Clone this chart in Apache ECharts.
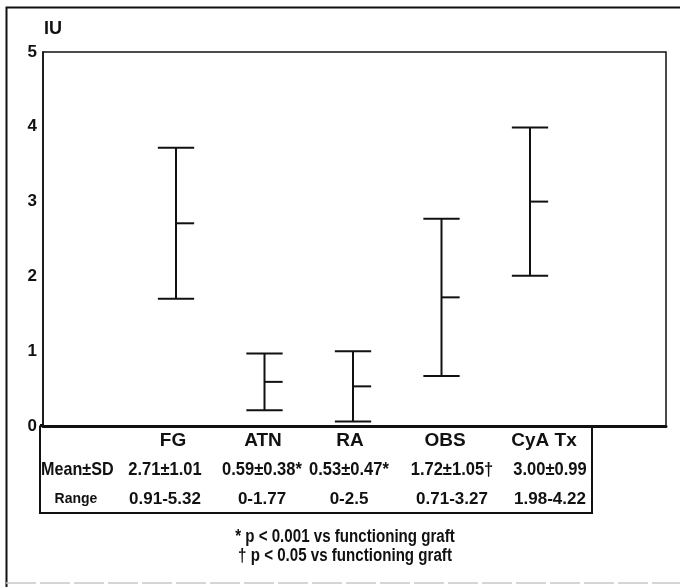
<!DOCTYPE html>
<html>
<head>
<meta charset="utf-8">
<script src="https://cdn.jsdelivr.net/npm/echarts@6/dist/echarts.min.js"></script>
<style>
  html, body { margin: 0; padding: 0; background: #fff; }
  #chart { width: 680px; height: 587px; }
</style>
</head>
<body>
<div id="chart"></div>
<script>
// Serum levels (IU) by graft status: mean ± SD per group
const groups = ['FG', 'ATN', 'RA', 'OBS', 'CyA Tx'];
const means = [2.71, 0.59, 0.53, 1.72, 3.00];
const sds = [1.01, 0.38, 0.47, 1.05, 0.99];
const marks = ['', '*', '*', '\u2020', ''];
const ranges = ['0.91-5.32', '0-1.77', '0-2.5', '0.71-3.27', '1.98-4.22'];
const yTicks = [0, 1, 2, 3, 4, 5];
const yName = 'IU';
const rowNames = ['Mean\u00b1SD', 'Range'];
const footnotes = ['* p < 0.001 vs functioning graft', '\u2020 p < 0.05 vs functioning graft'];

const INK = '#111';
const SANS = '"Liberation Sans", Arial, Helvetica, sans-serif';

// table layout (pixel columns / rows under the plot)
const headerX = [173, 263, 350, 445, 544];
const cellX = [165, 262, 349, 452, 550];
const rowY = [441, 470, 499];
const tableBox = { x0: 40, x1: 592, y0: 425.5, y1: 513 };
const CONDENSE = 0.87;

function fmt(v) { return v.toFixed(2); }

const chart = echarts.init(document.getElementById('chart'));

const tableTexts = [];
groups.forEach(function (g, i) {
  tableTexts.push({
    type: 'text', x: headerX[i], y: rowY[0],
    style: { text: g, fill: INK, font: 'bold 19px ' + SANS, textAlign: 'center', textVerticalAlign: 'middle' }
  });
  tableTexts.push({
    type: 'text', x: cellX[i], y: rowY[1], scaleX: CONDENSE,
    style: { text: fmt(means[i]) + '\u00b1' + fmt(sds[i]) + marks[i], fill: INK, font: 'bold 19px ' + SANS, textAlign: 'center', textVerticalAlign: 'middle' }
  });
  tableTexts.push({
    type: 'text', x: cellX[i], y: rowY[2],
    style: { text: ranges[i], fill: INK, font: 'bold 17px ' + SANS, textAlign: 'center', textVerticalAlign: 'middle' }
  });
});
tableTexts.push({
  type: 'text', x: 41, y: rowY[1], scaleX: 0.85,
  style: { text: rowNames[0], fill: INK, font: 'bold 19px ' + SANS, textAlign: 'left', textVerticalAlign: 'middle' }
});
tableTexts.push({
  type: 'text', x: 76, y: rowY[2],
  style: { text: rowNames[1], fill: INK, font: 'bold 14px ' + SANS, textAlign: 'center', textVerticalAlign: 'middle' }
});
footnotes.forEach(function (t, k) {
  tableTexts.push({
    type: 'text', x: 345, y: 537 + k * 19, scaleX: 0.84,
    style: { text: t, fill: INK, font: 'bold 18px ' + SANS, textAlign: 'center', textVerticalAlign: 'middle' }
  });
});

const option = {
  backgroundColor: '#fff',
  animation: false,
  grid: [
    { left: 43, right: 14, top: 52, bottom: 161, show: true, borderColor: INK, borderWidth: 1.5, backgroundColor: 'transparent' },
    { left: 131.75, right: 105.75, top: 52, bottom: 161 }
  ],
  xAxis: [
    {
      gridIndex: 0, type: 'value', min: 0, max: 1,
      axisLine: { show: true, lineStyle: { color: INK, width: 3 } },
      axisTick: { show: false }, axisLabel: { show: false }, splitLine: { show: false }
    },
    {
      gridIndex: 1, type: 'category', data: groups, show: false, boundaryGap: true
    }
  ],
  yAxis: [
    {
      gridIndex: 0, type: 'value',
      min: yTicks[0], max: yTicks[yTicks.length - 1], interval: yTicks[1] - yTicks[0],
      name: yName, nameLocation: 'end', nameGap: 14,
      nameTextStyle: { color: INK, fontFamily: SANS, fontWeight: 'bold', fontSize: 18, align: 'left', verticalAlign: 'bottom', padding: [0, 0, 0, 1] },
      axisLine: { show: true, lineStyle: { color: INK, width: 1.5 } },
      axisTick: { show: false },
      axisLabel: { color: INK, fontFamily: SANS, fontWeight: 'bold', fontSize: 17, margin: 6 },
      splitLine: { show: false }
    },
    {
      gridIndex: 1, type: 'value',
      min: yTicks[0], max: yTicks[yTicks.length - 1], show: false, splitLine: { show: false }
    }
  ],
  series: [{
    type: 'custom',
    xAxisIndex: 1, yAxisIndex: 1,
    encode: { x: 0, y: 1 },
    data: groups.map(function (g, i) { return [i, means[i], sds[i]]; }),
    renderItem: function (params, api) {
      const i = api.value(0), m = api.value(1), s = api.value(2);
      const hi = api.coord([i, m + s]);
      const lo = api.coord([i, m - s]);
      const mid = api.coord([i, m]);
      const half = api.size([1, 0])[0] * 0.205;
      const st = { stroke: INK, lineWidth: 2 };
      return {
        type: 'group',
        children: [
          { type: 'line', shape: { x1: hi[0], y1: hi[1], x2: lo[0], y2: lo[1] }, style: st },
          { type: 'line', shape: { x1: hi[0] - half, y1: hi[1], x2: hi[0] + half, y2: hi[1] }, style: st },
          { type: 'line', shape: { x1: lo[0] - half, y1: lo[1], x2: lo[0] + half, y2: lo[1] }, style: st },
          { type: 'line', shape: { x1: mid[0], y1: mid[1], x2: mid[0] + half, y2: mid[1] }, style: st }
        ]
      };
    }
  }],
  graphic: [
    // outer figure frame
    { type: 'polyline', shape: { points: [[6.5, 587], [6.5, 7.5], [680, 7.5]] }, style: { stroke: INK, lineWidth: 2, fill: null } },
    { type: 'line', shape: { x1: 6, y1: 583, x2: 680, y2: 583 }, style: { stroke: '#c8c8c8', lineWidth: 1.5, lineDash: [30, 4] } },
    // table frame under the axis
    { type: 'polyline', shape: { points: [[tableBox.x0, tableBox.y0], [tableBox.x0, tableBox.y1], [tableBox.x1, tableBox.y1], [tableBox.x1, tableBox.y0]] }, style: { stroke: INK, lineWidth: 2, fill: null } },
    { type: 'line', shape: { x1: tableBox.x0, y1: tableBox.y0, x2: 44, y2: tableBox.y0 }, style: { stroke: INK, lineWidth: 3 } }
  ].concat(tableTexts)
};

chart.setOption(option);
</script>
</body>
</html>
